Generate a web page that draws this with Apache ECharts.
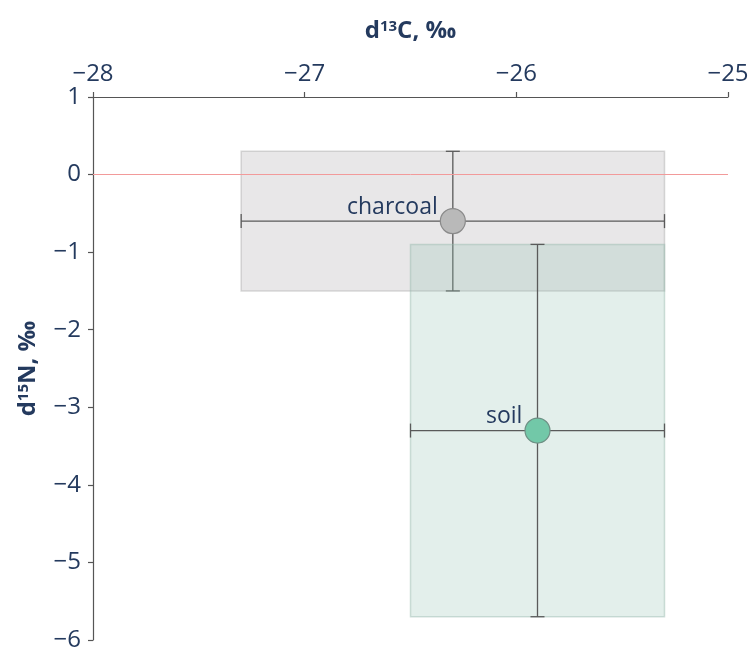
<!DOCTYPE html>
<html>
<head>
<meta charset="utf-8">
<script src="https://cdn.jsdelivr.net/npm/echarts@6/dist/echarts.min.js"></script>
<style>
  html, body { margin: 0; padding: 0; background: #fff; }
  #chart { width: 752px; height: 652px; }
</style>
</head>
<body>
<div id="chart"></div>
<script>
// Sample groups with mean isotope values and their ranges
const groups   = ['charcoal', 'soil'];
const meanC    = [-26.3, -25.9];   // d13C mean, ‰
const meanN    = [-0.6, -3.3];     // d15N mean, ‰
const rangeCLo = [-27.3, -26.5];
const rangeCHi = [-25.3, -25.3];
const rangeNLo = [-1.5, -5.7];
const rangeNHi = [0.3, -0.9];

const xTicks = [-28, -27, -26, -25];
const yTicks = [-6, -5, -4, -3, -2, -1, 0, 1];

// Per-group styling
const boxFill   = ['rgba(190,188,190,0.36)', 'rgba(143,191,175,0.25)'];
const boxStroke = ['rgba(170,170,170,0.45)', 'rgba(150,185,172,0.45)'];
const dotFill   = ['#b9b9b9', '#72c8a8'];
const dotStroke = ['#8a8a8a', '#6e8f84'];

const textColor = '#243a5e';
const fontFam = '"Open Sans", "Noto Sans", sans-serif';
const minus = v => String(v).replace('-', '\u2212');

const boxData = groups.map((g, i) => [meanC[i], meanN[i], rangeCLo[i], rangeCHi[i], rangeNLo[i], rangeNHi[i]]);
const dotData = groups.map((g, i) => ({
  name: g,
  value: [meanC[i], meanN[i]],
  itemStyle: { color: dotFill[i], borderColor: dotStroke[i], borderWidth: 1.2, opacity: 1 }
}));

const chart = echarts.init(document.getElementById('chart'), null, { renderer: 'canvas' });

function renderBox(params, api) {
  const i = params.dataIndex;
  const cx = api.value(0), cy = api.value(1);
  const xl = api.value(2), xh = api.value(3), yl = api.value(4), yh = api.value(5);
  const tl = api.coord([xl, yh]);
  const br = api.coord([xh, yl]);
  const top = api.coord([cx, yh]);
  const bot = api.coord([cx, yl]);
  const lft = api.coord([xl, cy]);
  const rgt = api.coord([xh, cy]);
  const cap = 7;
  const ls = { stroke: '#5a5a5a', lineWidth: 1.3 };
  return {
    type: 'group',
    children: [
      { type: 'rect', shape: { x: tl[0], y: tl[1], width: br[0] - tl[0], height: br[1] - tl[1] },
        style: { fill: boxFill[i], stroke: boxStroke[i], lineWidth: 1.5 } },
      { type: 'line', shape: { x1: top[0], y1: top[1], x2: bot[0], y2: bot[1] }, style: ls },
      { type: 'line', shape: { x1: top[0] - cap, y1: top[1], x2: top[0] + cap, y2: top[1] }, style: ls },
      { type: 'line', shape: { x1: bot[0] - cap, y1: bot[1], x2: bot[0] + cap, y2: bot[1] }, style: ls },
      { type: 'line', shape: { x1: lft[0], y1: lft[1], x2: rgt[0], y2: rgt[1] }, style: ls },
      { type: 'line', shape: { x1: lft[0], y1: lft[1] - cap, x2: lft[0], y2: lft[1] + cap }, style: ls },
      { type: 'line', shape: { x1: rgt[0], y1: rgt[1] - cap, x2: rgt[0], y2: rgt[1] + cap }, style: ls }
    ]
  };
}

const axisLineStyle = { color: '#555', width: 1.2 };
const nameStyle = {
  color: textColor, fontSize: 24, fontWeight: 'bold', fontFamily: fontFam,
  rich: { sup: { fontSize: 15, fontWeight: 'bold', color: textColor, verticalAlign: 'top', padding: [0, 0, 10, 0], fontFamily: fontFam } }
};

chart.setOption({
  animation: false,
  backgroundColor: '#ffffff',
  textStyle: { fontFamily: fontFam },
  grid: { left: 93, right: 24, top: 97, bottom: 11, containLabel: false },
  xAxis: {
    type: 'value', position: 'top', min: -28, max: -25, interval: 1,
    name: 'd{sup|13}C, ‰', nameLocation: 'middle', nameGap: 53,
    nameTextStyle: nameStyle,
    axisLine: { show: true, onZero: false, lineStyle: axisLineStyle },
    axisTick: { show: true, inside: false, length: 5, lineStyle: axisLineStyle },
    axisLabel: { color: textColor, fontSize: 24, margin: 11, fontFamily: fontFam,
      formatter: v => xTicks.includes(v) ? minus(v) : '' },
    splitLine: { show: false }
  },
  yAxis: {
    type: 'value', min: -6, max: 1, interval: 1,
    name: 'd{sup|15}N, ‰', nameLocation: 'middle', nameGap: 52, nameRotate: 90,
    nameTextStyle: nameStyle,
    axisLine: { show: true, onZero: false, lineStyle: axisLineStyle },
    axisTick: { show: true, inside: false, length: 5, lineStyle: axisLineStyle },
    axisLabel: { color: textColor, fontSize: 24, margin: 12, fontFamily: fontFam,
      formatter: v => yTicks.includes(v) ? minus(v) : '' },
    splitLine: { show: false }
  },
  series: [
    {
      type: 'custom',
      renderItem: renderBox,
      data: boxData,
      z: 2,
      silent: true,
      markLine: {
        silent: true, symbol: 'none', label: { show: false },
        lineStyle: { color: '#f29a9a', width: 1, type: 'solid' },
        data: [{ yAxis: 0 }]
      }
    },
    {
      type: 'scatter',
      data: dotData,
      symbol: 'circle',
      symbolSize: 25,
      z: 5,
      silent: true,
      label: {
        show: true, position: 'left', distance: 2, offset: [0, -14],
        formatter: p => p.name,
        color: textColor, fontSize: 23, fontFamily: fontFam
      }
    }
  ]
});
</script>
</body>
</html>
